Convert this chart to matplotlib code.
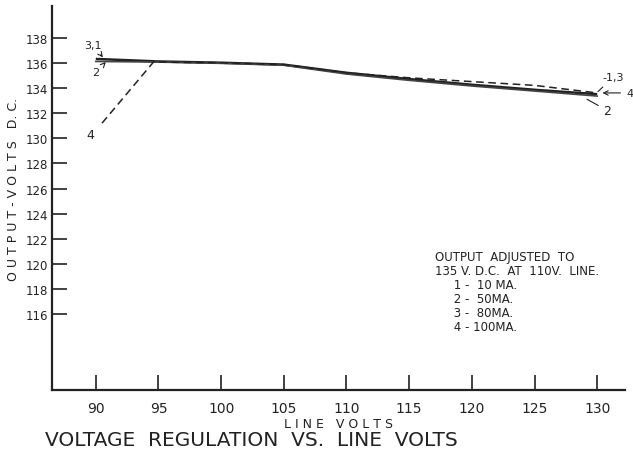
import matplotlib
matplotlib.use("Agg")
from matplotlib import pyplot as plt

# line volts (x) and output volts d.c. (y)
line_v = [90, 95, 100, 105, 110, 115, 120, 125, 130]
out_13 = [136.3, 136.1, 136.0, 135.85, 135.2, 134.7, 134.25, 133.85, 133.5]
out_2 = [136.1, 136.05, 135.95, 135.8, 135.1, 134.6, 134.15, 133.75, 133.35]
line_v4 = [90.5, 94.6, 100, 105, 110, 115, 120, 125, 130]
out_4 = [131.2, 136.05, 136.0, 135.85, 135.2, 134.8, 134.5, 134.2, 133.6]

yticks = [116, 118, 120, 122, 124, 126, 128, 130, 132, 134, 136, 138]
xticks = [90, 95, 100, 105, 110, 115, 120, 125, 130]

ink = "#222222"
fig = plt.figure(figsize=(6.33, 4.56), dpi=100)
ax = fig.add_axes([0.082, 0.1425, 0.905, 0.842])

ax.plot(line_v, out_13, color=ink, lw=1.8, solid_capstyle="butt")
ax.plot(line_v, out_2, color="#444444", lw=1.2)
ax.plot(line_v4, out_4, color=ink, lw=1.1, ls=(0, (5, 3)))

ax.set_xlim(86.5, 132.2)
ax.set_ylim(110, 140.5)
ax.set_xticks(xticks)
ax.set_yticks(yticks)
ax.tick_params(direction="in", length=11, width=1.2, color=ink, labelcolor=ink)
ax.tick_params(axis="x", labelsize=10, pad=8)
ax.tick_params(axis="y", labelsize=8.5, pad=3)
for s in ["top", "right"]:
    ax.spines[s].set_visible(False)
for s in ["left", "bottom"]:
    ax.spines[s].set_linewidth(1.6)
    ax.spines[s].set_color(ink)

ax.set_xlabel("L I N E   V O L T S", fontsize=9, color=ink, labelpad=1)
fig.text(0.021, 0.585, "O U T P U T - V O L T S   D. C.", fontsize=9, color=ink,
         rotation=90, ha="center", va="center")

# curve labels
arr = dict(arrowstyle="->", color=ink, lw=0.8)
ax.annotate("3,1", xy=(90.7, 136.25), xytext=(90.5, 137.2), fontsize=8, color=ink,
            ha="right", arrowprops=arr)
ax.annotate("2", xy=(90.8, 136.05), xytext=(90.3, 135.0), fontsize=8, color=ink,
            ha="right", arrowprops=arr)
ax.text(89.9, 130.3, "4", fontsize=9, color=ink, ha="right", va="center")
ax.annotate("-1,3", xy=(129.9, 133.55), xytext=(130.4, 134.6), fontsize=8, color=ink,
            ha="left", arrowprops=dict(arrowstyle="-", color=ink, lw=0.8))
ax.annotate("4", xy=(130.2, 133.6), xytext=(132.3, 133.6), fontsize=8, color=ink,
            ha="left", va="center", arrowprops=dict(arrowstyle="->", color=ink, lw=0.8))
ax.annotate("2", xy=(129.0, 133.2), xytext=(130.5, 132.2), fontsize=9, color=ink,
            ha="left", va="center", arrowprops=dict(arrowstyle="-", color=ink, lw=0.8))

# note block
note = ["OUTPUT  ADJUSTED  TO", "135 V. D.C.  AT  110V.  LINE.",
        "     1 -  10 MA.", "     2 -  50MA.", "     3 -  80MA.", "     4 - 100MA."]
for i, t in enumerate(note):
    fig.text(0.687, 0.435 - i * 0.0305, t, fontsize=8.5, color=ink, va="center")

fig.text(0.071, 0.033, "VOLTAGE  REGULATION  VS.  LINE  VOLTS",
         fontsize=14.5, color=ink, va="center")

fig.savefig("out.png", dpi=100)
